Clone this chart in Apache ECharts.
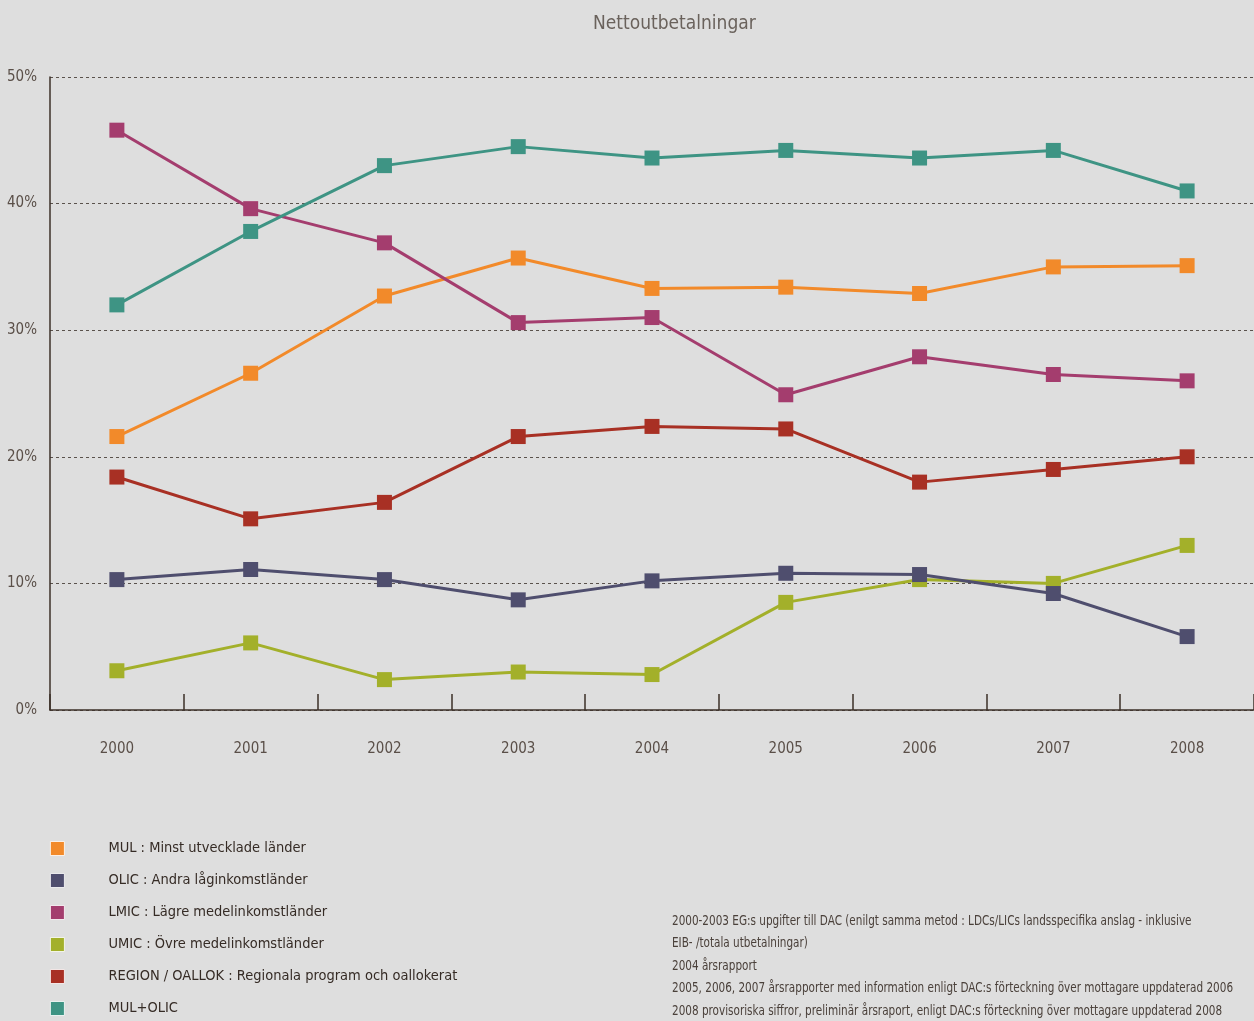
<!DOCTYPE html>
<html><head><meta charset="utf-8">
<script src="https://cdn.jsdelivr.net/npm/echarts@6/dist/echarts.min.js"></script>
<style>html,body{margin:0;padding:0;background:#dedede;}#c{width:1254px;height:1021px;}</style>
</head><body><div id="c"></div>
<script>
var years = ['2000','2001','2002','2003','2004','2005','2006','2007','2008'];
var mul      = [21.6,26.6,32.7,35.7,33.3,33.4,32.9,35.0,35.1];
var olic     = [10.3,11.1,10.3,8.7,10.2,10.8,10.7,9.2,5.8];
var lmic     = [45.8,39.6,36.9,30.6,31.0,24.9,27.9,26.5,26.0];
var umic     = [3.1,5.3,2.4,3.0,2.8,8.5,10.3,10.0,13.0];
var region   = [18.4,15.1,16.4,21.6,22.4,22.2,18.0,19.0,20.0];
var mulOlic  = [32.0,37.8,43.0,44.5,43.6,44.2,43.6,44.2,41.0];
var names = ['MUL : Minst utvecklade länder','OLIC : Andra låginkomstländer','LMIC : Lägre medelinkomstländer','UMIC : Övre medelinkomstländer','REGION / OALLOK : Regionala program och oallokerat','MUL+OLIC'];
var colors = ['#f28a2a','#4f4e6e','#a43d6e','#a3b02a','#a83024','#3e9484'];
var notes = ['2000-2003 EG:s upgifter till DAC (enilgt samma metod : LDCs/LICs landsspecifika anslag - inklusive','EIB- /totala utbetalningar)','2004 årsrapport','2005, 2006, 2007 årsrapporter med information enligt DAC:s förteckning över mottagare uppdaterad 2006','2008 provisoriska siffror, preliminär årsraport, enligt DAC:s förteckning över mottagare uppdaterad 2008'];
var seriesData = [mul, olic, lmic, umic, region, mulOlic];
var FONT = '"Liberation Sans Narrow","DejaVu Sans Condensed",sans-serif';
var chart = echarts.init(document.getElementById('c'));
var series = [];
var order = [3,1,4,0,2,5];
order.forEach(function(i){
  series.push({
    name: names[i], type:'line', data: seriesData[i],
    symbol:'rect', symbolSize:15, showSymbol:true,
    itemStyle:{color:colors[i]},
    lineStyle:{color:colors[i], width:3},
    animation:false, z: 2
  });
});
var graphics = notes.map(function(t,k){
  return {type:'text', x:672, y:914 + k*22.5, scaleX:0.83, style:{text:t, font:'14px '+FONT, fill:'#4a403a'}};
});
chart.setOption({
  backgroundColor:'#dedede',
  animation:false,
  title:{text:'Nettoutbetalningar', left:588, top:10, textStyle:{fontFamily:FONT, fontSize:19, fontWeight:'normal', color:'#6a625c'}},
  grid:{left:50, right:0, top:77, bottom:311},
  xAxis:{type:'category', data:years, boundaryGap:true,
    axisLine:{lineStyle:{color:'#3d3129', width:1.5}},
    axisTick:{show:true, inside:true, length:16, lineStyle:{color:'#3d3129', width:1.5}},
    axisLabel:{margin:32, fontFamily:FONT, fontSize:15, color:'#5a4f48'}
  },
  yAxis:{type:'value', min:0, max:50, interval:10,
    axisLine:{show:true, lineStyle:{color:'#3d3129', width:1.5}},
    axisTick:{show:false},
    axisLabel:{formatter:function(v){return v+'%';}, margin:13, fontFamily:FONT, fontSize:15, color:'#5a4f48'},
    splitLine:{lineStyle:{color:'#5a524c', type:[3,3], width:1}}
  },
  legend:{orient:'vertical', left:50, top:841, padding:0, itemWidth:14, itemHeight:14, itemGap:17,
    icon:'rect', data:names,
    textStyle:{fontFamily:FONT, fontSize:14.5, lineHeight:14, color:'#352b25', padding:[0,0,0,39]},
    itemStyle:{borderColor:'#ffffff', borderWidth:0.8}
  },
  series: series,
  graphic: graphics
});
</script></body></html>
